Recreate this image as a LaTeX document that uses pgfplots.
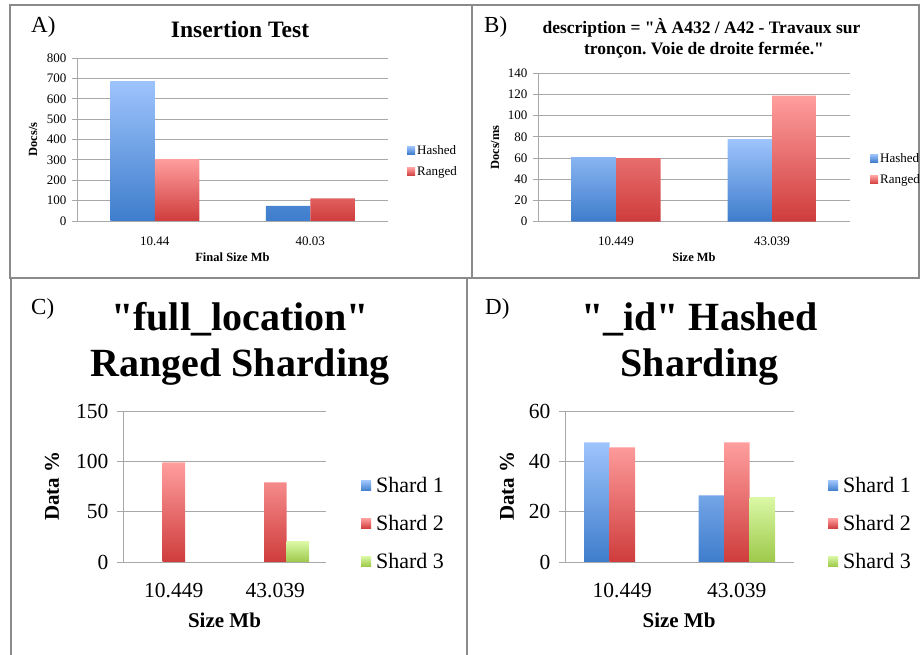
\documentclass[border=0pt]{standalone}
\usepackage{fontspec}
\setmainfont{Liberation Serif}[Ligatures=TeXOff]
\usepackage{pgfplots}
\pgfplotsset{compat=1.18}
\frenchspacing

\definecolor{bluetop}{HTML}{9EC4FC}
\definecolor{bluebot}{HTML}{3E7DCC}
\definecolor{redtop}{HTML}{FF9E9E}
\definecolor{redbot}{HTML}{CF3C3C}
\definecolor{greentop}{HTML}{DAF8A4}
\definecolor{greenbot}{HTML}{9DC94A}
\definecolor{gridgray}{HTML}{A8A8A8}
\definecolor{framegray}{HTML}{8A8A8A}

\pgfplotsset{
  chartbase/.style={
    scale only axis,
    axis lines*=left,
    axis line style={gridgray, line width=0.8pt},
    tick align=outside,
    ymajorgrids,
    grid style={gridgray, line width=0.8pt},
    xmin=0.5, xmax=2.5,
    xtick={1,2},
    x tick style={draw=none},
    minor xtick={0.5,1.5,2.5},
    minor x tick style={gridgray, line width=0.8pt},
    y tick style={gridgray, line width=0.8pt},
    ymin=0,
    /pgf/number format/assume math mode=true,
    /pgf/number format/1000 sep={},
    legend cell align=left,
    legend style={draw=none, fill=none, anchor=west, inner sep=0pt},
  },
  small/.style={
    chartbase,
    major tick length=5pt, minor tick length=5pt,
    tick label style={font=\fontsize{13}{13}\selectfont},
    label style={font=\bfseries\fontsize{12.5}{12.5}\selectfont},
    legend style={font=\fontsize{13}{13}\selectfont, row sep=7pt},
    legend image code/.code={\path[##1] (0pt,-4pt) rectangle (8pt,4pt);},
    yticklabel style={xshift=-2pt},
    xticklabel style={yshift=-7pt},
  },
  big/.style={
    chartbase,
    major tick length=6pt, minor tick length=6pt,
    tick label style={font=\fontsize{21.5}{21.5}\selectfont},
    label style={font=\bfseries\fontsize{21}{21}\selectfont},
    legend style={font=\fontsize{22}{22}\selectfont, row sep=17pt,
      /tikz/every odd column/.append style={column sep=3pt}},
    legend image code/.code={\path[##1] (0pt,-5pt) rectangle (10pt,5pt);},
    yticklabel style={xshift=-5pt},
    xticklabel style={yshift=-12pt},
  },
  hashed/.style={ybar, draw=none, top color=bluetop, bottom color=bluebot},
  ranged/.style={ybar, draw=none, top color=redtop, bottom color=redbot},
  third/.style={ybar, draw=none, top color=greentop, bottom color=greenbot},
}

\begin{document}
\begin{tikzpicture}[x=1pt, y=1pt]
\useasboundingbox (0,0) rectangle (920,655);

% panel frames
\draw[framegray, line width=1.5pt] (10,650) rectangle (472,377);
\draw[framegray, line width=1.5pt] (472,650) rectangle (919,377);
\draw[framegray, line width=1.5pt] (11,0) -- (11,377);
\draw[framegray, line width=1.5pt] (467,0) -- (467,377);

% A) Insertion Test
\node[anchor=base west, font=\fontsize{23}{23}\selectfont, inner sep=0pt] at (31,622) {A)};
\node[anchor=base, font=\bfseries\fontsize{23.5}{23.5}\selectfont, inner sep=0pt] at (240,617.7) {Insertion Test};
\begin{axis}[small,
  at={(77pt,434pt)}, anchor=south west, width=311pt, height=163pt,
  ymax=800, ytick={0,100,...,800},
  xticklabels={10.44,40.03},
  xlabel={Final Size Mb}, ylabel={Docs/s},
  xlabel style={at={(axis description cs:0.5,-0.221)}, anchor=center},
  ylabel style={at={(axis description cs:-0.1415,0.5)}, anchor=center},
  legend style={at={(1.061,0.368)}},
]
\addplot[hashed, bar width=44.5pt, bar shift=-22.25pt] coordinates {(1,687) (2,74)};
\addplot[ranged, bar width=44.5pt, bar shift=22.25pt] coordinates {(1,304) (2,111)};
\legend{Hashed, Ranged}
\end{axis}

% B) description query
\node[anchor=base west, font=\fontsize{23}{23}\selectfont, inner sep=0pt] at (484,622) {B)};
\node[anchor=base, font=\bfseries\fontsize{17.5}{17.5}\selectfont, inner sep=0pt] at (701.5,621.7) {description = "À A432 / A42 - Travaux sur};
\node[anchor=base, font=\bfseries\fontsize{17.5}{17.5}\selectfont, inner sep=0pt] at (704,600.7) {tronçon. Voie de droite fermée."};
\begin{axis}[small,
  at={(538pt,433.3pt)}, anchor=south west, width=312pt, height=148.4pt,
  ymax=140, ytick={0,20,...,140},
  xticklabels={10.449,43.039},
  xlabel={Size Mb}, ylabel={Docs/ms},
  xlabel style={at={(axis description cs:0.5,-0.24)}, anchor=center},
  ylabel style={at={(axis description cs:-0.138,0.5)}, anchor=center},
  legend style={at={(1.064,0.355)}},
]
\addplot[hashed, bar width=44.5pt, bar shift=-22.25pt] coordinates {(1,61) (2,78)};
\addplot[ranged, bar width=44.5pt, bar shift=22.25pt] coordinates {(1,60) (2,119)};
\legend{Hashed, Ranged}
\end{axis}

% C) "full_location" Ranged Sharding
\node[anchor=base west, font=\fontsize{23}{23}\selectfont, inner sep=0pt] at (31,340) {C)};
\node[anchor=base, font=\bfseries\fontsize{40}{40}\selectfont, inner sep=0pt] at (240,324) {"full\_location"};
\node[anchor=base, font=\bfseries\fontsize{40}{40}\selectfont, inner sep=0pt] at (240,278) {Ranged Sharding};
\begin{axis}[big,
  at={(123pt,93pt)}, anchor=south west, width=203pt, height=151pt,
  ymax=150, ytick={0,50,100,150},
  xticklabels={10.449,43.039},
  xlabel={Size Mb}, ylabel={Data \%},
  xlabel style={at={(axis description cs:0.5,-0.384)}, anchor=center},
  ylabel style={at={(axis description cs:-0.35,0.503)}, anchor=center},
  legend style={at={(1.172,0.255)}},
]
\addlegendimage{hashed}
\addplot[ranged, bar width=22.5pt, bar shift=0pt] coordinates {(1,99) (2,79)};
\addplot[third, bar width=22.5pt, bar shift=22.5pt] coordinates {(2,20)};
\legend{Shard 1, Shard 2, Shard 3}
\end{axis}

% D) "_id" Hashed Sharding
\node[anchor=base west, font=\fontsize{23}{23}\selectfont, inner sep=0pt] at (485,340) {D)};
\node[anchor=base, font=\bfseries\fontsize{40}{40}\selectfont, inner sep=0pt] at (699.5,324) {"\_id" Hashed};
\node[anchor=base, font=\bfseries\fontsize{40}{40}\selectfont, inner sep=0pt] at (699.5,278) {Sharding};
\begin{axis}[big,
  at={(565pt,93pt)}, anchor=south west, width=229pt, height=151pt,
  ymax=60, ytick={0,20,40,60},
  xticklabels={10.449,43.039},
  xlabel={Size Mb}, ylabel={Data \%},
  xlabel style={at={(axis description cs:0.498,-0.384)}, anchor=center},
  ylabel style={at={(axis description cs:-0.253,0.503)}, anchor=center},
  legend style={at={(1.148,0.255)}},
]
\addplot[hashed, bar width=25.5pt, bar shift=-25.5pt] coordinates {(1,47.5) (2,26.5)};
\addplot[ranged, bar width=25.5pt, bar shift=0pt] coordinates {(1,45.5) (2,47.5)};
\addplot[third, bar width=25.5pt, bar shift=25.5pt] coordinates {(2,25.5)};
\legend{Shard 1, Shard 2, Shard 3}
\end{axis}
\end{tikzpicture}
\end{document}
